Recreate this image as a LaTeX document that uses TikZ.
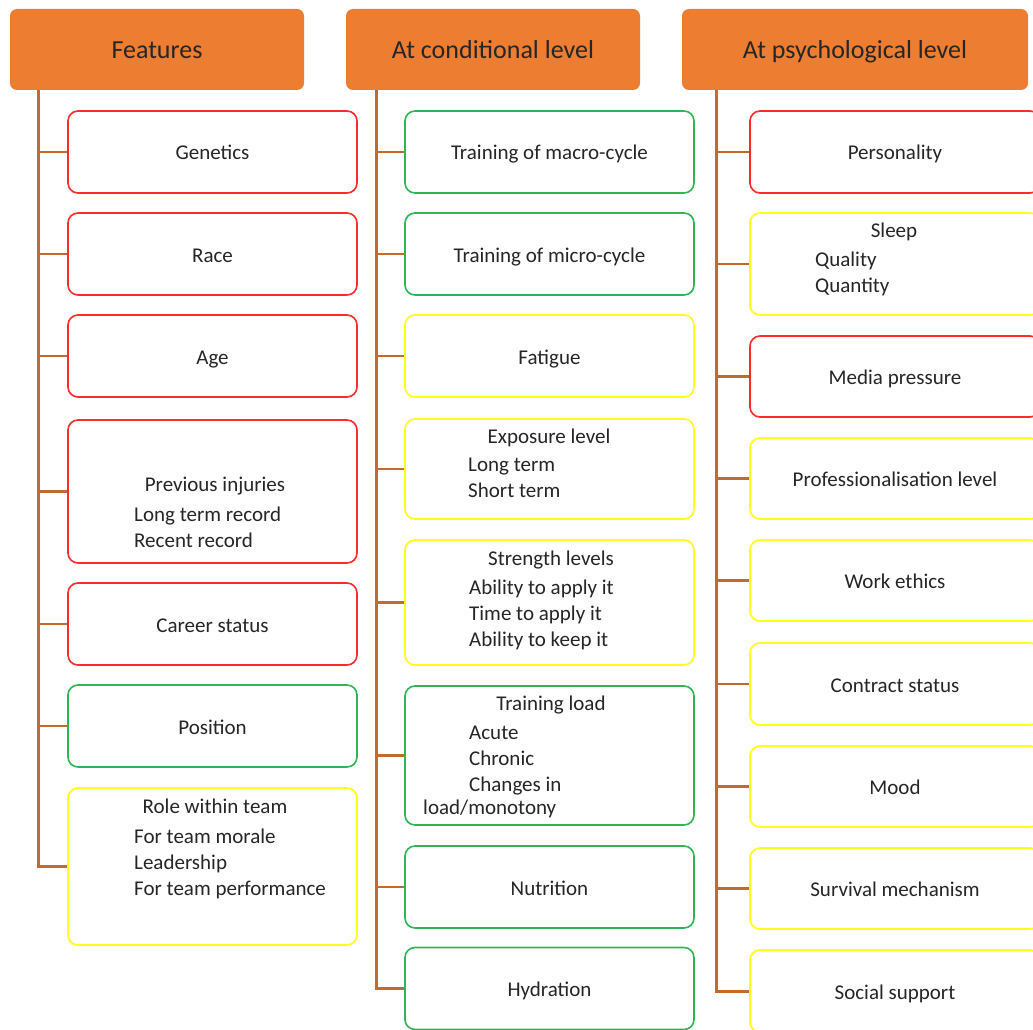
\documentclass[tikz,border=0pt]{standalone}
\usepackage{fontspec}
\setmainfont{Carlito}
\definecolor{hdrfill}{HTML}{ED7D31}
\definecolor{trunk}{HTML}{C46A2C}
\definecolor{bred}{HTML}{FF2A2A}
\definecolor{bgreen}{HTML}{2DB556}
\definecolor{byellow}{HTML}{FFFF1A}
\definecolor{txt}{HTML}{262626}
\tikzset{
  header/.style={fill=hdrfill, draw=none, rounded corners=7pt, minimum width=294pt,
    minimum height=81pt, font=\fontsize{26}{30}\selectfont, text=txt,
    text height=19pt, text depth=0pt},
  item/.style={draw, line width=1.6pt, rounded corners=10pt, fill=white, minimum width=289pt,
    font=\fontsize{21}{25}\selectfont, text=txt, text height=16pt, text depth=0pt},
  redbox/.style={item, draw=bred},
  greenbox/.style={item, draw=bgreen},
  yellowbox/.style={item, draw=byellow},
  sub/.style={anchor=base west, inner sep=0pt, font=\fontsize{21}{25}\selectfont, text=txt},
  subtitle/.style={anchor=base, inner sep=0pt, font=\fontsize{21}{25}\selectfont, text=txt},
  spine/.style={draw=trunk, line width=3pt},
  branch/.style={draw=trunk, line width=2.2pt},
}
\begin{document}
\begin{tikzpicture}[x=1pt,y=-1pt]
\useasboundingbox (0,0) rectangle (1033,1030);
\clip (0,0) rectangle (1033,1030);

% ---------- column headers ----------
\node[header] (hF) at (157,49.5) {Features};
\node[header] (hC) at (493,49.5) {At conditional level};
\node[header, minimum width=346pt] (hP) at (855,49.5) {At psychological level};

% ---------- Features ----------
\node[redbox, minimum height=82pt] (f1) at (212.5,152) {Genetics};
\node[redbox, minimum height=82pt] (f2) at (212.5,254) {Race};
\node[redbox, minimum height=82pt] (f3) at (212.5,356) {Age};
\node[redbox, minimum height=143pt] (f4) at (212.5,491.5) {};
\node[subtitle] at (215,491) {Previous injuries};
\node[sub] at (134,521) {Long term record};
\node[sub] at (134,547) {Recent record};
\node[redbox, minimum height=82pt] (f5) at (212.5,624) {Career status};
\node[greenbox, minimum height=82pt] (f6) at (212.5,726) {Position};
\node[yellowbox, minimum height=157pt] (f7) at (212.5,866.5) {};
\node[subtitle] at (215,813) {Role within team};
\node[sub] at (134,843) {For team morale};
\node[sub] at (134,869) {Leadership};
\node[sub] at (134,895) {For team performance};

% ---------- At conditional level ----------
\node[greenbox, minimum height=82pt] (c1) at (549.5,152) {Training of macro-cycle};
\node[greenbox, minimum height=82pt] (c2) at (549.5,254) {Training of micro-cycle};
\node[yellowbox, minimum height=82pt] (c3) at (549.5,356) {Fatigue};
\node[yellowbox, minimum height=100pt] (c4) at (549.5,469) {};
\node[subtitle] at (549,443) {Exposure level};
\node[sub] at (468,471) {Long term};
\node[sub] at (468,497) {Short term};
\node[yellowbox, minimum height=125pt] (c5) at (549.5,602.5) {};
\node[subtitle] at (551,565) {Strength levels};
\node[sub] at (469,594) {Ability to apply it};
\node[sub] at (469,620) {Time to apply it};
\node[sub] at (469,646) {Ability to keep it};
\node[greenbox, minimum height=139pt] (c6) at (549.5,755.5) {};
\node[subtitle] at (551,710) {Training load};
\node[sub] at (469,739) {Acute};
\node[sub] at (469,765) {Chronic};
\node[sub] at (469,791) {Changes in};
\node[sub] at (423,814) {load/monotony};
\node[greenbox, minimum height=82pt] (c7) at (549.5,887) {Nutrition};
\node[greenbox, minimum height=82pt] (c8) at (549.5,988.5) {Hydration};

% ---------- At psychological level ----------
\node[redbox, minimum width=290pt, minimum height=82pt] (p1) at (895,152) {Personality};
\node[yellowbox, minimum width=290pt, minimum height=102pt] (p2) at (895,264) {};
\node[subtitle] at (894,237) {Sleep};
\node[sub] at (815,266) {Quality};
\node[sub] at (815,292) {Quantity};
\node[redbox, minimum width=290pt, minimum height=81pt] (p3) at (895,376.5) {Media pressure};
\node[yellowbox, minimum width=290pt, minimum height=81pt] (p4) at (895,478.5) {Professionalisation level};
\node[yellowbox, minimum width=290pt, minimum height=81pt] (p5) at (895,580.5) {Work ethics};
\node[yellowbox, minimum width=290pt, minimum height=82pt] (p6) at (895,684) {Contract status};
\node[yellowbox, minimum width=290pt, minimum height=81pt] (p7) at (895,786.5) {Mood};
\node[yellowbox, minimum width=290pt, minimum height=81pt] (p8) at (895,888.5) {Survival mechanism};
\node[yellowbox, minimum width=290pt, minimum height=82pt] (p9) at (895,991) {Social support};

% ---------- connectors ----------
\coordinate (sF) at (38,0);
\coordinate (sC) at (376,0);
\coordinate (sP) at (716,0);
\draw[spine] (hF.south -| sF) -- (f7.west -| sF) -- (f7.west);
\foreach \n in {f1,f2,f3,f4,f5,f6} \draw[branch] (\n.west -| sF) -- (\n.west);
\draw[spine] (hC.south -| sC) -- (c8.west -| sC) -- (c8.west);
\foreach \n in {c1,c2,c3,c4,c5,c6,c7} \draw[branch] (\n.west -| sC) -- (\n.west);
\draw[spine] (hP.south -| sP) -- (p9.west -| sP) -- (p9.west);
\foreach \n in {p1,p2,p3,p4,p5,p6,p7,p8} \draw[branch] (\n.west -| sP) -- (\n.west);
\end{tikzpicture}
\end{document}
